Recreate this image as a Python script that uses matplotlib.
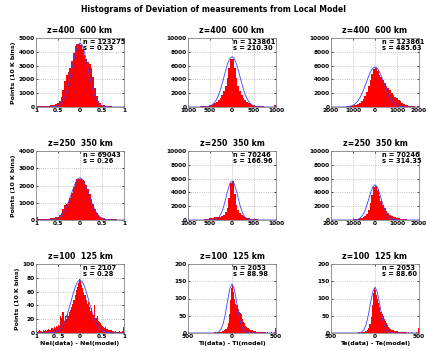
import numpy as np
import matplotlib
matplotlib.use("Agg")
import matplotlib.pyplot as plt

# Histogram counts per panel (bins evenly spread over the x range)
ne_high_counts = [40, 40, 50, 50, 60, 70, 80, 100, 120, 150, 180, 220, 280, 400, 700, 1200, 1900,
                  2300, 2500, 2800, 3300, 3900, 4400, 4550, 4600, 4500, 4200, 3800, 3450, 3250, 3100,
                  2800, 2200, 1400, 800, 450, 280, 180, 120, 80, 60, 50, 40, 30, 30, 25, 20, 20, 20, 20]
ti_high_counts = [15, 20, 25, 30, 40, 50, 60, 80, 100, 130, 170, 210, 270, 340, 430, 550, 720, 950,
                  1250, 1700, 2300, 3100, 4200, 5600, 6900, 6900, 5600, 4200, 3100, 2300, 1700, 1250,
                  950, 720, 550, 430, 340, 270, 210, 170, 130, 100, 80, 60, 50, 40, 30, 25, 20, 300]
te_high_counts = [10, 10, 15, 20, 25, 30, 40, 50, 60, 80, 110, 150, 200, 270, 360, 480, 650, 900,
                  1200, 1600, 2200, 3000, 3900, 4800, 5500, 5700, 5200, 4700, 4300, 3900, 3500, 3100,
                  2800, 2500, 2100, 1800, 1500, 1250, 1000, 800, 620, 480, 360, 270, 200, 150, 110,
                  80, 60, 200]
ne_mid_counts = [150, 60, 50, 50, 55, 60, 70, 80, 90, 110, 130, 160, 200, 280, 420, 650, 850, 950,
                 1050, 1250, 1550, 1900, 2200, 2350, 2400, 2350, 2300, 2250, 2050, 1800, 1500, 1200,
                 900, 650, 420, 280, 190, 130, 100, 80, 60, 50, 40, 35, 30, 30, 25, 25, 20, 20]
ti_mid_counts = [10, 10, 15, 15, 20, 25, 30, 40, 60, 90, 130, 180, 240, 300, 350, 380, 400, 420,
                 450, 550, 750, 1100, 1800, 3200, 5400, 5600, 3800, 2200, 1400, 950, 700, 520, 400,
                 320, 260, 210, 170, 140, 110, 90, 70, 55, 45, 35, 30, 25, 20, 15, 15, 60]
te_mid_counts = [5, 5, 5, 10, 10, 10, 15, 20, 25, 30, 40, 50, 70, 90, 120, 160, 220, 300, 420, 600,
                 900, 1500, 2400, 3600, 4800, 5000, 4300, 3500, 2800, 2200, 1700, 1300, 1000, 780,
                 600, 470, 370, 290, 230, 180, 140, 110, 90, 70, 55, 45, 35, 30, 25, 60]
ne_low_counts = [3, 2, 3, 4, 3, 2, 4, 3, 5, 3,
                 4, 6, 4, 5, 7, 6, 8, 7, 10, 9,
                 12, 10, 25, 22, 30, 18, 24, 20, 27, 25,
                 30, 34, 38, 42, 48, 55, 62, 66, 72, 78,
                 76, 70, 65, 60, 55, 48, 42, 45, 38, 32,
                 36, 28, 26, 40, 22, 25, 18, 16, 14, 11,
                 10, 9, 7, 8, 6, 5, 5, 4, 4, 3,
                 3, 2, 3, 2, 2, 3, 2, 2, 3, 8]
ti_low_counts = [0, 0, 0, 0, 0, 0, 0, 0, 0, 0,
                 0, 0, 0, 0, 0, 0, 0, 0, 1, 0,
                 1, 0, 1, 1, 2, 1, 2, 3, 2, 4,
                 3, 5, 6, 8, 12, 18, 30, 55, 95, 130,
                 140, 120, 100, 85, 80, 70, 62, 58, 55, 40,
                 32, 28, 20, 18, 15, 12, 10, 9, 8, 6,
                 5, 6, 4, 3, 4, 3, 2, 3, 2, 2,
                 2, 1, 2, 1, 1, 2, 1, 1, 2, 15]
te_low_counts = [0, 0, 0, 0, 0, 0, 0, 0, 0, 0,
                 0, 0, 0, 0, 0, 0, 0, 1, 0, 0,
                 1, 0, 1, 1, 1, 2, 1, 2, 3, 3,
                 4, 5, 7, 10, 15, 25, 45, 80, 115, 130,
                 125, 110, 100, 88, 75, 62, 55, 48, 42, 35,
                 28, 22, 18, 15, 12, 10, 9, 7, 6, 5,
                 5, 4, 3, 4, 3, 2, 2, 3, 2, 1,
                 2, 1, 1, 2, 1, 1, 1, 2, 1, 14]

ne_high_fit = [0, 0, 0, 0, 0, 0, 2, 7, 18, 44, 98, 204, 394, 703, 1160, 1772, 2508, 3287, 3985, 4475,
               4650, 4475, 3985, 3287, 2508, 1772, 1160, 703, 394, 204, 98, 44, 18, 7, 2, 0, 0, 0, 0, 0, 0]
ti_high_fit = [0, 0, 0, 0, 0, 1, 4, 11, 28, 69, 154, 320, 618, 1103, 1820, 2782, 3937, 5160, 6257, 7023,
               7300, 7023, 6257, 5160, 3937, 2782, 1820, 1103, 618, 320, 154, 69, 28, 11, 4, 1, 0, 0, 0, 0, 0]
te_high_fit = [0, 0, 0, 0, 2, 5, 13, 30, 64, 132, 255, 461, 785, 1254, 1884, 2656, 3518, 4378, 5118, 5622,
               5800, 5622, 5118, 4378, 3518, 2656, 1884, 1254, 785, 461, 255, 132, 64, 30, 13, 5, 2, 0, 0, 0, 0]
ne_mid_fit = [0, 0, 0, 0, 0, 2, 5, 12, 27, 56, 108, 195, 332, 530, 796, 1122, 1486, 1850, 2161, 2375,
              2450, 2375, 2161, 1850, 1486, 1122, 796, 530, 332, 195, 108, 56, 27, 12, 5, 2, 0, 0, 0, 0, 0]
ti_mid_fit = [0, 0, 0, 0, 0, 0, 0, 0, 0, 1, 4, 14, 50, 151, 394, 889, 1730, 2904, 4203, 5247,
              5650, 5247, 4203, 2904, 1730, 889, 394, 151, 50, 14, 4, 1, 0, 0, 0, 0, 0, 0, 0, 0, 0]
te_mid_fit = [0, 0, 0, 0, 0, 0, 0, 0, 0, 2, 9, 29, 86, 224, 514, 1035, 1838, 2873, 3952, 4785,
              5100, 4785, 3952, 2873, 1838, 1035, 514, 224, 86, 29, 9, 2, 0, 0, 0, 0, 0, 0, 0, 0, 0]
ne_low_fit = [0, 0, 0, 0, 0, 0, 0.2, 0.4, 0.8, 1.8, 3.4, 6.1, 10.4, 16.6, 25.0, 35.3, 46.7, 58.1, 67.9, 74.6,
              77, 74.6, 67.9, 58.1, 46.7, 35.3, 25.0, 16.6, 10.4, 6.1, 3.4, 1.8, 0.8, 0.4, 0.2, 0, 0, 0, 0, 0, 0]
ti_low_fit = [0, 0, 0, 0, 0, 0, 0, 0, 0, 0, 0, 0, 0.2, 0.9, 3.4, 10.7, 27, 56, 94, 128,
              142, 128, 94, 56, 27, 10.7, 3.4, 0.9, 0.2, 0, 0, 0, 0, 0, 0, 0, 0, 0, 0, 0, 0]
te_low_fit = [0, 0, 0, 0, 0, 0, 0, 0, 0, 0, 0, 0, 0.2, 0.8, 3.2, 10, 25, 53, 88, 120,
              133, 120, 88, 53, 25, 10, 3.2, 0.8, 0.2, 0, 0, 0, 0, 0, 0, 0, 0, 0, 0, 0, 0]

row_titles = ["z=400  600 km", "z=250  350 km", "z=100  125 km"]
n_values = [["123275", "123861", "123861"], ["69043", "70246", "70246"], ["2107", "2053", "2053"]]
s_values = [["0.23", "210.30", "485.63"], ["0.26", "166.96", "314.35"], ["0.28", "88.98", "88.60"]]
x_labels = ["NeI(data) - NeI(model)", "Ti(data) - Ti(model)", "Te(data) - Te(model)"]

x_ranges = [[1, 1000, 2000], [1, 1000, 2000], [1, 500, 500]]
x_ticks = [[[-1, -0.5, 0, 0.5, 1], [-1000, -500, 0, 500, 1000], [-2000, -1000, 0, 1000, 2000]],
           [[-1, -0.5, 0, 0.5, 1], [-1000, -500, 0, 500, 1000], [-2000, -1000, 0, 1000, 2000]],
           [[-1, -0.5, 0, 0.5, 1], [-500, 0, 500], [-500, 0, 500]]]
x_tick_labels = [[["1", "0.5", "0", "0.5", "1"], ["1000", "500", "0", "500", "1000"],
                  ["2000", "1000", "0", "1000", "2000"]],
                 [["1", "0.5", "0", "0.5", "1"], ["1000", "500", "0", "500", "1000"],
                  ["2000", "1000", "0", "1000", "2000"]],
                 [["1", "0. 5", "0", "0.5", "1"], ["500", "0", "500"], ["500", "0", "500"]]]
y_maxes = [[5000, 10000, 10000], [4000, 10000, 10000], [100, 200, 200]]
y_steps = [[1000, 2000, 2000], [1000, 2000, 2000], [20, 50, 50]]

counts = [[ne_high_counts, ti_high_counts, te_high_counts],
          [ne_mid_counts, ti_mid_counts, te_mid_counts],
          [ne_low_counts, ti_low_counts, te_low_counts]]
fits = [[ne_high_fit, ti_high_fit, te_high_fit],
        [ne_mid_fit, ti_mid_fit, te_mid_fit],
        [ne_low_fit, ti_low_fit, te_low_fit]]

# layout in pixels
W, H = 427, 351
col_left = [36, 188, 331]
row_bottom = [107, 220, 333]
ax_w, ax_h = 88, 69
text_x = [0.53, 0.51, 0.58]

fig = plt.figure(figsize=(W / 100, H / 100), dpi=100)
fig.text(0.5, 1 - 10 / H, "Histograms of Deviation of measurements from Local Model",
         ha="center", va="center", fontsize=5.6, fontweight="bold")

for r in range(3):
    for c in range(3):
        ax = fig.add_axes([col_left[c] / W, 1 - row_bottom[r] / H, ax_w / W, ax_h / H])
        xr = x_ranges[r][c]
        vals = counts[r][c]
        edges = np.linspace(-xr, xr, len(vals) + 1)
        # filled stairs avoid the white seams between neighbouring bars
        ax.stairs(vals, edges, fill=True, color="#ff0000", linewidth=0)
        fit = fits[r][c]
        ax.plot(np.linspace(-xr, xr, len(fit)), fit, color="#4040ff", linewidth=0.6)

        ax.set_xlim(-xr, xr)
        ax.set_ylim(0, y_maxes[r][c])
        ax.set_xticks(x_ticks[r][c])
        ax.set_xticklabels(x_tick_labels[r][c])
        yt = np.arange(0, y_maxes[r][c] + 1, y_steps[r][c])
        ax.set_yticks(yt)
        ax.grid(True, color="#b0b0b0", linestyle=":", linewidth=0.6)
        ax.set_axisbelow(True)
        ax.tick_params(axis="both", direction="in", length=1.5, width=0.5, pad=1,
                       labelsize=4.2, top=True, right=True)
        for lab in ax.get_xticklabels() + ax.get_yticklabels():
            lab.set_fontweight("bold")
        for sp in ax.spines.values():
            sp.set_color("#888888")
            sp.set_linewidth(0.6)

        ax.set_title(row_titles[r], fontsize=5.6, fontweight="bold", pad=3.5)
        ax.text(text_x[c], 0.98, "n = " + n_values[r][c] + "\ns = " + s_values[r][c],
                transform=ax.transAxes, ha="left", va="top", fontsize=4.8,
                fontweight="bold", linespacing=0.9)
        if c == 0:
            ax.set_ylabel("Points (10 K bins)", fontsize=4.5, fontweight="bold", labelpad=2)
        if r == 2:
            ax.set_xlabel(x_labels[c], fontsize=4.5, fontweight="bold", labelpad=1)

plt.savefig("out.png", dpi=100)
plt.close()
